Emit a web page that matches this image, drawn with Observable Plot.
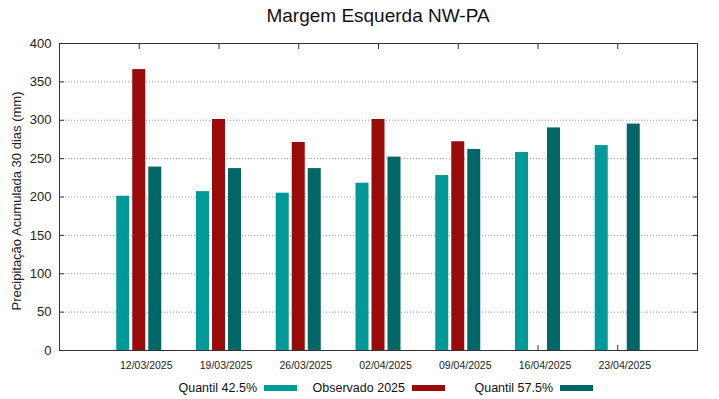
<!DOCTYPE html>
<html><head><meta charset="utf-8">
<script src="https://cdn.jsdelivr.net/npm/d3@7"></script>
<script src="https://cdn.jsdelivr.net/npm/@observablehq/plot@0.6"></script>
<style>
body{margin:0;background:#fff;font-family:"Liberation Sans",Arial,sans-serif;color:#111;}
#wrap{position:relative;width:719px;height:399px;overflow:hidden;background:#fff}
#title{height:30px;width:638px;margin-left:59px;text-align:center;font-size:19px;line-height:19px;padding-top:6px;box-sizing:border-box;}
#chart svg{display:block}
#legend{position:absolute;left:149px;top:379px;display:flex;font-size:12.5px;line-height:18px}
#legend .item{width:148px;display:flex;justify-content:flex-end;align-items:center}
#legend .sw{width:33px;height:6px;margin-left:7px}
</style></head><body>
<div id="wrap">
<div id="title">Margem Esquerda NW-PA</div>
<div id="chart"></div>
<div id="legend"></div>
</div>
<script>
const dates = ["12/03/2025","19/03/2025","26/03/2025","02/04/2025","09/04/2025","16/04/2025","23/04/2025"];
const quantil425 = [201, 207, 205, 218, 228, 258, 267];
const observado2025 = [366, 301, 271, 301, 272, null, null];
const quantil575 = [239, 237, 237, 252, 262, 290, 295];
const yTicks = [0, 50, 100, 150, 200, 250, 300, 350, 400];
const yLabel = "Precipitação Acumulada 30 dias (mm)";
const seriesNames = ["Quantil 42.5%", "Observado 2025", "Quantil 57.5%"];
const seriesColors = ["#009999", "#990b0b", "#006666"];

const rows = dates.map((d, i) => ({date: d, q425: quantil425[i], obs: observado2025[i], q575: quantil575[i]}));
const noText = () => "";

const chart = Plot.plot({
  width: 719,
  height: 346,
  marginTop: 13,
  marginBottom: 26,
  marginLeft: 59,
  marginRight: 22,
  style: {fontFamily: "'Liberation Sans', Arial, sans-serif", background: "#fff", color: "#222"},
  x: {type: "band", domain: dates, paddingInner: 0.837, paddingOuter: 0.9185, align: 0.5, round: false, axis: null},
  y: {domain: [0, 400], axis: null},
  marks: [
    Plot.gridY(yTicks.filter(v => v > 0 && v < 400), {stroke: "#999", strokeOpacity: 1, strokeDasharray: "1,2"}),
    Plot.axisY(yTicks, {anchor: "left", tickSize: 0, tickPadding: 8, fontSize: 13, color: "#222", label: null}),
    Plot.text([yLabel], {text: d => d, frameAnchor: "left", textAnchor: "middle", lineAnchor: "middle", rotate: -90, dx: -42.5, dy: 4, fontSize: 13, fill: "#222"}),
    Plot.axisY(yTicks, {anchor: "left", tickSize: -5, tickFormat: noText, label: null, color: "#333"}),
    Plot.axisY(yTicks, {anchor: "right", tickSize: -5, tickFormat: noText, label: null, color: "#333"}),
    Plot.axisX(dates, {anchor: "bottom", tickSize: 0, tickPadding: 11, fontSize: 10.5, dx: 7, label: null, color: "#222"}),
    Plot.axisX(dates, {anchor: "bottom", tickSize: -5, tickFormat: noText, label: null, color: "#333"}),
    Plot.axisX(dates, {anchor: "top", tickSize: -5, tickFormat: noText, label: null, color: "#333"}),
    Plot.barY(rows, {x: "date", y: "q425", fill: seriesColors[0], dx: -16}),
    Plot.barY(rows, {x: "date", y: "obs", fill: seriesColors[1]}),
    Plot.barY(rows, {x: "date", y: "q575", fill: seriesColors[2], dx: 16}),
    Plot.frame({stroke: "#333"})
  ]
});
document.getElementById("chart").appendChild(chart);

const legend = document.getElementById("legend");
seriesNames.forEach((name, i) => {
  const item = document.createElement("div");
  item.className = "item";
  const t = document.createElement("span");
  t.textContent = name;
  const sw = document.createElement("span");
  sw.className = "sw";
  sw.style.background = seriesColors[i];
  item.appendChild(t);
  item.appendChild(sw);
  legend.appendChild(item);
});
</script>
</body></html>
